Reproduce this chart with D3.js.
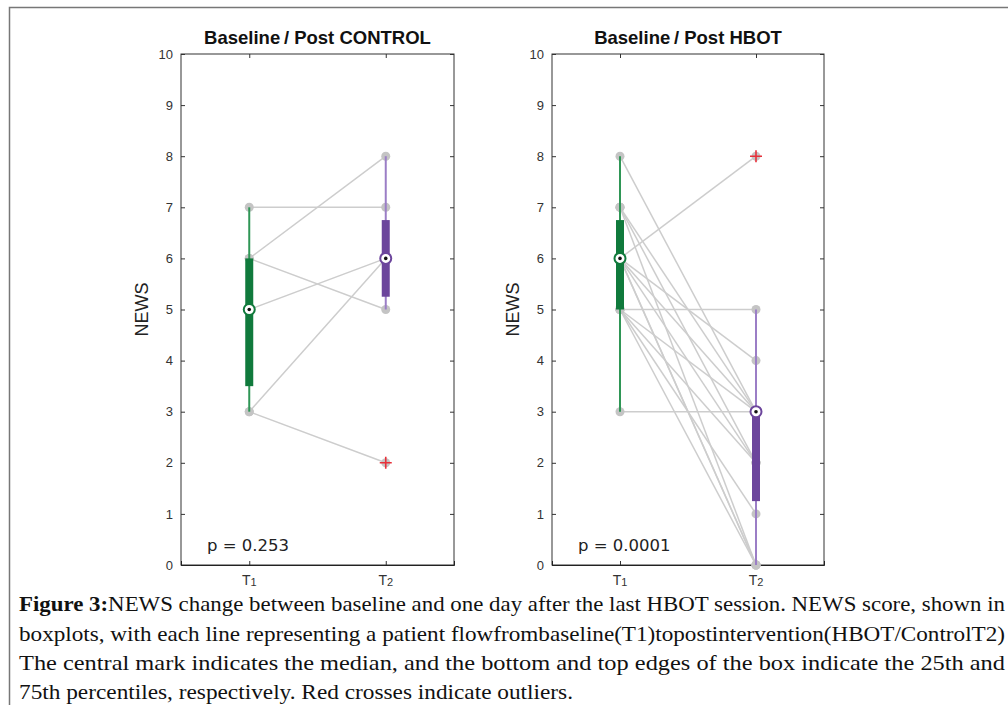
<!DOCTYPE html>
<html lang="en">
<head>
  <meta charset="UTF-8">
  <title>NEWS Baseline / Post</title>
  <script src="https://d3js.org/d3.v7.min.js"></script>
  <style>
    body { margin: 0; background: #fff; }
    svg { display: block; }
  </style>
</head>
<body>
<div id="chart"></div>
<script>
  // categories
  const times = ["T1", "T2"];
  const yTicks = [0, 1, 2, 3, 4, 5, 6, 7, 8, 9, 10];

  // patient flows [T1, T2]
  const ctrlPairs = [[7, 7], [6, 8], [6, 5], [5, 6], [3, 6], [3, 2]];
  const hbotPairs = [[8, 3], [7, 3], [7, 2], [7, 0], [6, 8], [6, 4], [6, 3], [6, 2],
                     [6, 0], [5, 5], [5, 3], [5, 2], [5, 1], [5, 0], [3, 3], [6, 0]];

  // box stats per time point
  const ctrlLo = [3, 5],  ctrlQ1 = [3.5, 5.25], ctrlMed = [5, 6], ctrlQ3 = [6, 6.75], ctrlHi = [7, 8];
  const hbotLo = [3, 0],  hbotQ1 = [5, 1.25],   hbotMed = [6, 3], hbotQ3 = [6.75, 3], hbotHi = [8, 5];

  // outliers [time index, value]
  const ctrlOut = [[1, 2]];
  const hbotOut = [[1, 8]];

  const titles = ["Baseline\u2009/ Post CONTROL", "Baseline\u2009/ Post HBOT"];
  const pLabels = ["p = 0.253", "p = 0.0001"];

  const boxColors = ["#107a3c", "#6c459c"];
  const whiskColors = ["#2f9656", "#9b7ec6"];

  const svg = d3.select("#chart").append("svg")
    .attr("width", 1008).attr("height", 705);

  // outer frame
  svg.append("path")
    .attr("d", "M9.5,720 L9.5,7.5 L1020,7.5")
    .attr("fill", "none").attr("stroke", "#777").attr("stroke-width", 1.5);

  const panels = [
    { left: 181, right: 454, pairs: ctrlPairs, lo: ctrlLo, q1: ctrlQ1, med: ctrlMed, q3: ctrlQ3, hi: ctrlHi, out: ctrlOut },
    { left: 552, right: 824, pairs: hbotPairs, lo: hbotLo, q1: hbotQ1, med: hbotMed, q3: hbotQ3, hi: hbotHi, out: hbotOut }
  ];

  const plotTop = 54, plotBottom = 565;
  const y = d3.scaleLinear().domain([0, 10]).range([plotBottom, plotTop]);

  panels.forEach(function(p, pi) {
    const x = d3.scalePoint().domain(times).range([p.left, p.right]).padding(0.5);
    const g = svg.append("g");

    // box frame
    g.append("rect")
      .attr("x", p.left).attr("y", plotTop)
      .attr("width", p.right - p.left).attr("height", plotBottom - plotTop)
      .attr("fill", "none").attr("stroke", "#333").attr("stroke-width", 1);

    // y axis (left) with inward ticks
    const yAxis = g.append("g")
      .attr("transform", `translate(${p.left},0)`)
      .call(d3.axisLeft(y).tickValues(yTicks).tickSize(-4).tickPadding(8).tickFormat(d3.format("d")));
    yAxis.select(".domain").remove();
    yAxis.selectAll("line").attr("stroke", "#333");
    yAxis.selectAll("text").attr("font-family", "Liberation Sans, Arial, sans-serif")
      .attr("font-size", 13).attr("fill", "#333");

    // right ticks
    const yAxisR = g.append("g")
      .attr("transform", `translate(${p.right},0)`)
      .call(d3.axisRight(y).tickValues(yTicks).tickSize(-4).tickFormat(""));
    yAxisR.select(".domain").remove();
    yAxisR.selectAll("line").attr("stroke", "#333");

    // x axis
    const xAxis = g.append("g")
      .attr("transform", `translate(0,${plotBottom})`)
      .call(d3.axisBottom(x).tickSize(-4).tickPadding(10).tickFormat(""));
    xAxis.select(".domain").attr("stroke", "#222");
    xAxis.selectAll("line").attr("stroke", "#333");
    const xTop = g.append("g")
      .attr("transform", `translate(0,${plotTop})`)
      .call(d3.axisTop(x).tickSize(-4).tickFormat(""));
    xTop.select(".domain").remove();
    xTop.selectAll("line").attr("stroke", "#333");

    // x tick labels with small subscript digit
    times.forEach(function(t) {
      const tx = g.append("text")
        .attr("x", x(t)).attr("y", 585)
        .attr("text-anchor", "middle")
        .attr("font-family", "Liberation Sans, Arial, sans-serif")
        .attr("font-size", 14).attr("fill", "#333");
      tx.append("tspan").text(t[0]);
      tx.append("tspan").attr("font-size", 11).attr("dy", 1).text(t.slice(1));
    });

    // title
    g.append("text")
      .attr("x", (p.left + p.right) / 2).attr("y", 44)
      .attr("text-anchor", "middle")
      .attr("font-family", "Liberation Sans, Arial, sans-serif")
      .attr("font-weight", "bold").attr("font-size", 18.5).attr("fill", "#111")
      .text(titles[pi]);

    // y label
    g.append("text")
      .attr("transform", `translate(${p.left - 33},${(plotTop + plotBottom) / 2}) rotate(-90)`)
      .attr("text-anchor", "middle")
      .attr("font-family", "Liberation Sans, Arial, sans-serif")
      .attr("font-size", 18).attr("fill", "#222")
      .text("NEWS");

    // patient lines
    g.selectAll(".flow").data(p.pairs).enter().append("line")
      .attr("x1", x("T1")).attr("y1", d => y(d[0]))
      .attr("x2", x("T2")).attr("y2", d => y(d[1]))
      .attr("stroke", "#cdcdcd").attr("stroke-width", 1.5);

    // data dots
    const dots = [];
    p.pairs.forEach(d => { dots.push([0, d[0]]); dots.push([1, d[1]]); });
    g.selectAll(".dot").data(dots).enter().append("circle")
      .attr("cx", d => x(times[d[0]])).attr("cy", d => y(d[1]))
      .attr("r", 4.5).attr("fill", "#c4c4c4");

    // boxplots
    times.forEach(function(t, i) {
      const cx = x(t);
      g.append("line")
        .attr("x1", cx).attr("x2", cx)
        .attr("y1", y(p.lo[i])).attr("y2", y(p.hi[i]))
        .attr("stroke", whiskColors[i]).attr("stroke-width", 2);
      g.append("rect")
        .attr("x", cx - 4).attr("width", 8)
        .attr("y", y(p.q3[i])).attr("height", Math.max(0, y(p.q1[i]) - y(p.q3[i])))
        .attr("fill", boxColors[i]);
      g.append("circle")
        .attr("cx", cx).attr("cy", y(p.med[i])).attr("r", 5.5)
        .attr("fill", "#fff").attr("stroke", boxColors[i]).attr("stroke-width", 2);
      g.append("circle")
        .attr("cx", cx).attr("cy", y(p.med[i])).attr("r", 1.8)
        .attr("fill", "#111");
    });

    // outliers
    g.selectAll(".out").data(p.out).enter().append("path")
      .attr("d", d => {
        const ox = x(times[d[0]]), oy = y(d[1]);
        return `M${ox - 6},${oy}H${ox + 6}M${ox},${oy - 6}V${oy + 6}`;
      })
      .attr("stroke", "#e8303a").attr("stroke-width", 1.6).attr("fill", "none");

    // p value
    g.append("text")
      .attr("x", p.left + 26).attr("y", 551)
      .attr("font-family", "DejaVu Sans, sans-serif")
      .attr("font-size", 16.5).attr("fill", "#222")
      .text(pLabels[pi]);
  });

  // caption
  const capFont = "Liberation Serif, Times New Roman, serif";
  const cap = [
    { y: 611, len: 986, bold: "Figure 3:", text: "NEWS change between baseline and one day after the last HBOT session. NEWS score, shown in" },
    { y: 641, len: 986, bold: "", text: "boxplots, with each line representing a patient flowfrombaseline(T1)topostintervention(HBOT/ControlT2)" },
    { y: 670, len: 986, bold: "", text: "The central mark indicates the median, and the bottom and top edges of the box indicate the 25th and" },
    { y: 699, len: 554, bold: "", text: "75th percentiles, respectively. Red crosses indicate outliers." }
  ];
  cap.forEach(function(c) {
    const t = svg.append("text")
      .attr("x", 19).attr("y", c.y)
      .attr("font-family", capFont).attr("font-size", 21).attr("fill", "#111")
      .attr("textLength", c.len).attr("lengthAdjust", "spacingAndGlyphs");
    if (c.bold) t.append("tspan").attr("font-weight", "bold").text(c.bold);
    t.append("tspan").text(c.text);
  });
</script>
</body>
</html>
